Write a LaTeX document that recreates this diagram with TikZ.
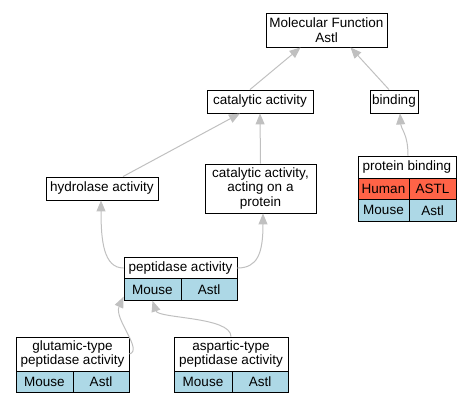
\documentclass[tikz,border=0pt]{standalone}
\usepackage{fontspec}
\setmainfont{Liberation Sans}
\usepackage{xcolor}
\usetikzlibrary{arrows.meta}
\definecolor{edgegray}{RGB}{192,192,192}
\definecolor{humancol}{RGB}{255,99,71}
\definecolor{mousecol}{RGB}{173,216,230}

\begin{document}
\begin{tikzpicture}[x=1pt, y=1pt,
  term/.style={draw, line width=0.9pt, fill=white, align=center, inner sep=0pt,
               font=\fontsize{13.5}{14.6}\selectfont},
  cell/.style={term, minimum height=21.5pt},
  mouse/.style={cell, fill=mousecol},
  human/.style={cell, fill=humancol},
  arr/.style={draw=edgegray, line width=1pt,
              -{Triangle[length=11pt, width=9pt, fill=edgegray]}}]
\useasboundingbox (0,0) rectangle (471,-405);
% GO terms
\node[term, minimum width=121pt, minimum height=34pt] (mf) at (326.5,-30) {Molecular Function\\Astl};
\node[term, minimum width=106pt, minimum height=23pt] (cat) at (260,-101.5) {catalytic activity};
\node[term, minimum width=48pt, minimum height=23pt] (bind) at (394,-101.5) {binding};
\node[term, minimum width=112pt, minimum height=23pt] (hyd) at (102,-188.5) {hydrolase activity};
\node[term, minimum width=111pt, minimum height=49pt] (catp) at (260.5,-188.5) {catalytic activity,\\acting on a\\protein};
% protein binding table
\node[term, minimum width=98pt, minimum height=22pt] (pb) at (407,-167) {protein binding};
\node[human, minimum width=51pt] (pbh) at (383.5,-188.75) {Human};
\node[human, minimum width=47pt] (pbg) at (432.5,-188.75) {ASTL};
\node[mouse, minimum width=51pt] (pbm) at (383.5,-210.25) {Mouse};
\node[mouse, minimum width=47pt] (pba) at (432.5,-210.25) {Astl};
% peptidase activity table
\node[term, minimum width=113pt, minimum height=22pt] (pep) at (180.5,-268) {peptidase activity};
\node[mouse, minimum width=57pt] (pepm) at (152.5,-289.5) {Mouse};
\node[mouse, minimum width=56pt] (pepa) at (209,-289.5) {Astl};
% glutamic-type table
\node[term, minimum width=113pt, minimum height=34pt] (glu) at (72.5,-354) {glutamic-type\\peptidase activity};
\node[mouse, minimum width=57pt] (glum) at (44.5,-382) {Mouse};
\node[mouse, minimum width=56pt] (glua) at (101,-382) {Astl};
% aspartic-type table
\node[term, minimum width=114pt, minimum height=34pt] (asp) at (231,-354) {aspartic-type\\peptidase activity};
\node[mouse, minimum width=58pt] (aspm) at (203,-382) {Mouse};
\node[mouse, minimum width=56pt] (aspa) at (260,-382) {Astl};
% is-a links
\draw[arr] ([xshift=-10pt]cat.north) -- ([xshift=-26pt]mf.south);
\draw[arr] ([xshift=-5pt]bind.north) -- ([xshift=24pt]mf.south);
\draw[arr] ([xshift=21pt]hyd.north) -- ([xshift=-20pt]cat.south);
\draw[arr] (catp.north) -- (cat.south);
\draw[arr] ([xshift=1pt]pb.north) .. controls +(0,22) and +(1,-16) .. ([xshift=6pt]bind.south);
\draw[arr] (pep.west) .. controls +(-20,0) and +(0,-40) .. ([xshift=-1pt]hyd.south);
\draw[arr] (pep.east) .. controls +(20,0) and +(0,-40) .. ([xshift=2.5pt]catp.south);
\draw[arr] (glu.east) .. controls +(14,4) and +(-10,-22) .. ([yshift=4pt]pepm.south west);
\draw[arr] (asp.north) .. controls +(0,20) and +(6,-18) .. (pepm.south);
\end{tikzpicture}
\end{document}
